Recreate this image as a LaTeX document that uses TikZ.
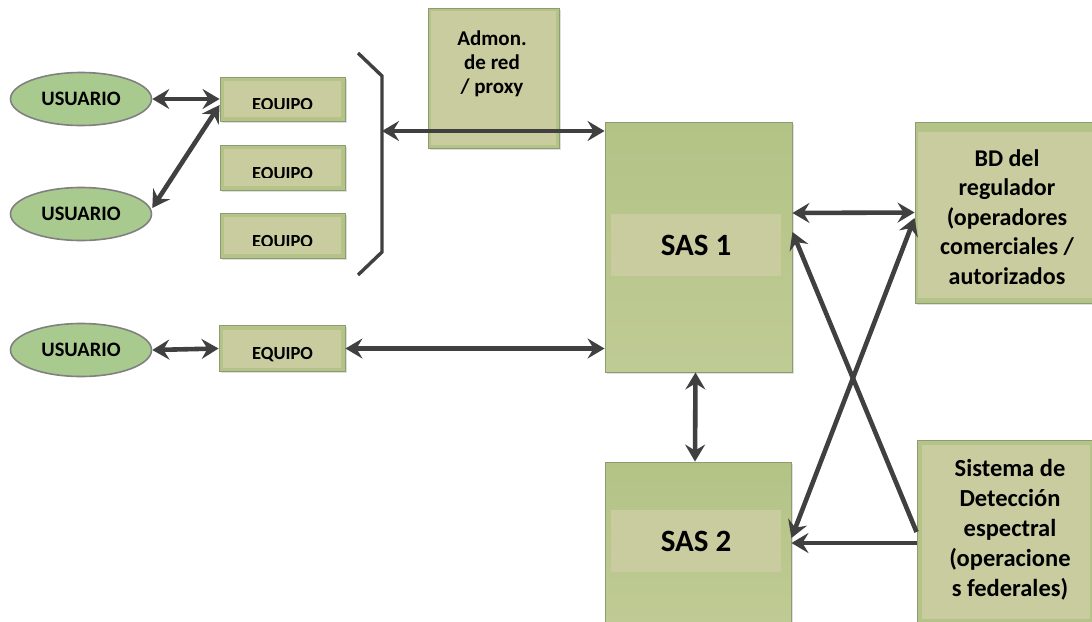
\documentclass[tikz,border=0pt]{standalone}
\usepackage{fontspec}
\setmainfont{Carlito}
\usetikzlibrary{arrows.meta,shapes.geometric,shadows}

\definecolor{arrowgray}{HTML}{404040}
\definecolor{ellfill}{HTML}{A9CA8F}
\definecolor{ellline}{HTML}{808080}
\definecolor{boxline}{HTML}{8E9B70}
\definecolor{boxdark}{HTML}{B4C387}
\definecolor{boxlight}{HTML}{C8CC9E}
\definecolor{sastop}{HTML}{B3C386}
\definecolor{sasbot}{HTML}{BFCB94}

\tikzset{
  user/.style={ellipse, draw=ellline, line width=1.6pt, fill=ellfill,
    minimum width=141pt, minimum height=53pt, inner sep=0pt,
    font=\bfseries\fontsize{20.5}{22}\selectfont},
  % rectangle with a darker rim and a lighter inner panel
  gbox/.style={rectangle, draw=boxline, line width=0.9pt, fill=boxdark, inner sep=0pt,
    drop shadow={opacity=0.25, shadow xshift=1.5pt, shadow yshift=-1.5pt},
    path picture={\fill[boxlight]
      ([shift={(#1,-#1)}]path picture bounding box.north west) rectangle
      ([shift={(-#1,#1)}]path picture bounding box.south east);}},
  gbox/.default=4pt,
  sasbox/.style={rectangle, draw=boxline, line width=0.9pt, inner sep=0pt,
    top color=sastop, bottom color=sasbot,
    drop shadow={opacity=0.25, shadow xshift=1.5pt, shadow yshift=-1.5pt}},
  saslbl/.style={rectangle, fill=boxlight, inner sep=0pt,
    minimum width=170pt, minimum height=62pt,
    font=\bfseries\fontsize{31}{31}\selectfont},
  eqtxt/.style={anchor=base, inner sep=0pt, font=\bfseries\fontsize{18.5}{20}\selectfont},
  bigtxt/.style={align=center, inner sep=0pt, font=\bfseries\fontsize{24}{29.5}\selectfont},
  link/.style={draw=arrowgray, line width=4.6pt,
    {Stealth[length=17pt,width=20pt,inset=6pt]}-{Stealth[length=17pt,width=20pt,inset=6pt]}},
  onelink/.style={draw=arrowgray, line width=4.6pt,
    -{Stealth[length=17pt,width=20pt,inset=6pt]}},
  brace/.style={draw=arrowgray, line width=3.4pt, line join=miter}
}

\begin{document}
\begin{tikzpicture}[x=1pt, y=-1pt]
\useasboundingbox (0,0) rectangle (1092,621);

% users
\node[user] (u1) at (81,99)  {USUARIO};
\node[user] (u2) at (81,214) {USUARIO};
\node[user] (u3) at (81,350) {USUARIO};

% devices
\node[gbox, minimum width=125pt, minimum height=44pt] (e1) at (282.5,99)    {};
\node[gbox, minimum width=125pt, minimum height=45pt] (e2) at (282.5,167.5) {};
\node[gbox, minimum width=125pt, minimum height=45pt] (e3) at (282.5,235.5) {};
\node[gbox, minimum width=126pt, minimum height=46pt] (e4) at (282,348.5)  {};

% labels of the grouped devices are cut off at the bottom
\begin{scope}
  \clip (220,60) rectangle (345,108.5);
  \node[eqtxt] (e1t) at (282.5,110) {EQUIPO};
\end{scope}
\begin{scope}
  \clip (220,140) rectangle (345,177.5);
  \node[eqtxt] (e2t) at (282.5,179) {EQUIPO};
\end{scope}
\begin{scope}
  \clip (220,205) rectangle (345,245.5);
  \node[eqtxt] (e3t) at (282.5,247) {EQUIPO};
\end{scope}
\node[eqtxt] (e4t) at (282.5,359) {EQUIPO};

% network admin / proxy
\node[gbox=3pt, minimum width=131pt, minimum height=140pt] (adm) at (493.5,78) {};
\node[align=center, inner sep=0pt, font=\bfseries\fontsize{21}{24}\selectfont]
  (admt) at (492,64) {Admon.\\de red\\/ proxy};

% bracket grouping the devices
\draw[brace] (358,53) -- (382,76) -- (382,252) -- (358,275);
\coordinate (brk) at (382,131);

% SAS servers
\node[sasbox, minimum width=187pt, minimum height=250pt] (sas1) at (698.5,247) {};
\node[saslbl] (sas1t) at (696,245) {SAS 1};
\node[sasbox, minimum width=186pt, minimum height=164pt] (sas2) at (698,544) {};
\node[saslbl] (sas2t) at (696,541) {SAS 2};

% regulator database
\node[rectangle, draw=boxline, line width=0.9pt, fill=boxdark, inner sep=0pt,
  minimum width=180pt, minimum height=181pt,
  drop shadow={opacity=0.25, shadow xshift=1.5pt, shadow yshift=-1.5pt},
  path picture={\fill[boxlight]
    ([shift={(3pt,-10pt)}]path picture bounding box.north west) rectangle
    ([shift={(0pt,5pt)}]path picture bounding box.south east);}]
  (bd) at (1005,212.5) {};
\node[bigtxt] (bdt) at (1007,217)
  {BD del\\regulador\\(operadores\\comerciales /\\autorizados};

% spectrum sensing system
\node[gbox=5pt, minimum width=178pt, minimum height=184pt] (sis) at (1006,532) {};
\node[bigtxt, font=\bfseries\fontsize{24.5}{30}\selectfont] (sist) at (1010,530)
  {Sistema de\\Detección\\espectral\\(operacione\\s federales)};

% connectors
\draw[link] (u1.east) -- (e1.west);
\draw[link] ([yshift=6pt]u2.east) -- ([yshift=-6pt]e1.west);
\draw[link] (u3.east) -- (e4.west);
\draw[link] (e4.east) -- (e4.east -| sas1.west);
\draw[link] (brk) -- (brk -| sas1.west);
\draw[link] ([xshift=-3pt]sas1.south) -- ([xshift=-3pt]sas2.north);
\draw[link] ([yshift=34pt]sas1.east) -- (bd.west);
\draw[onelink] (sis.west) -- ([yshift=15pt]sas1.east);
\draw[link] ([yshift=6pt]sas2.east) -- ([yshift=-5.5pt]bd.west);
\draw[onelink] ([yshift=-11pt]sis.west) -- ([yshift=-11pt]sis.west -| sas2.east);
\end{tikzpicture}
\end{document}
